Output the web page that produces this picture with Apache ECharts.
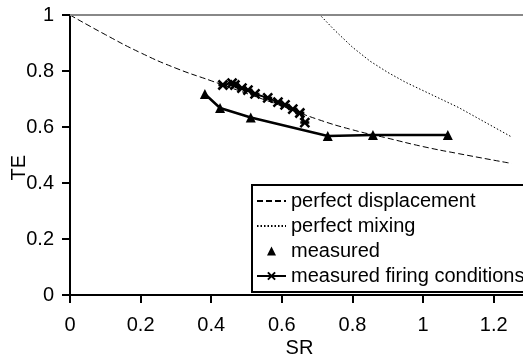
<!DOCTYPE html>
<html>
<head>
<meta charset="utf-8">
<script src="https://cdn.jsdelivr.net/npm/echarts@6/dist/echarts.min.js"></script>
<style>
html,body{margin:0;padding:0;background:#fff;}
#c{width:523px;height:354px;}
</style>
</head>
<body>
<div id="c"></div>
<script>
// ---- data ----
const displacementSR = [0, 0.1, 0.2, 0.3, 0.4, 0.5, 0.6, 0.7, 0.8, 0.9, 1.0, 1.1, 1.25];
const displacementTE = [1, 0.93, 0.865, 0.81, 0.765, 0.72, 0.675, 0.628, 0.59, 0.56, 0.53, 0.505, 0.47];
const mixingSR = [0, 0.708, 0.75, 0.8, 0.85, 0.9, 0.95, 1.0, 1.05, 1.1, 1.15, 1.2, 1.25];
const mixingTE = [1, 1, 0.945, 0.885, 0.835, 0.795, 0.76, 0.73, 0.70, 0.67, 0.635, 0.60, 0.565];
const measuredSR = [0.382, 0.425, 0.512, 0.730, 0.858, 1.070];
const measuredTE = [0.718, 0.668, 0.634, 0.568, 0.571, 0.571];
const firingSR = [0.433, 0.459, 0.467, 0.487, 0.504, 0.524, 0.560, 0.589, 0.609, 0.631, 0.651, 0.665];
const firingTE = [0.750, 0.757, 0.750, 0.739, 0.732, 0.718, 0.704, 0.689, 0.679, 0.664, 0.650, 0.616];
const seriesNames = ['perfect displacement', 'perfect mixing', 'measured', 'measured firing conditions'];
const xName = 'SR', yName = 'TE';

const zip = (a, b) => a.map((v, i) => [v, b[i]]);
const FONT = 'Liberation Sans, Arial, sans-serif';
const starPath = 'path://M0,0L10,10M10,0L0,10M0,5L10,5';
const triPath = 'path://M5,0L10,10L0,10Z';

const chart = echarts.init(document.getElementById('c'), null, {renderer: 'canvas'});
chart.setOption({
  animation: false,
  backgroundColor: '#fff',
  textStyle: {fontFamily: FONT, color: '#000'},
  grid: {left: 70, top: 15, bottom: 59, right: -6, containLabel: false, outerBoundsMode: 'none'},
  xAxis: {
    type: 'value', min: 0, max: 1.3, interval: 0.2,
    name: xName, nameLocation: 'middle', nameGap: 43, nameMoveOverlap: false,
    nameTextStyle: {fontFamily: FONT, fontSize: 20, color: '#000'},
    axisLine: {lineStyle: {color: '#000', width: 2}},
    axisTick: {length: 8, lineStyle: {color: '#000', width: 2}},
    axisLabel: {fontFamily: FONT, fontSize: 20, color: '#000', margin: 20, showMaxLabel: false},
    splitLine: {show: false}
  },
  yAxis: {
    type: 'value', min: 0, max: 1, interval: 0.2,
    name: yName, nameLocation: 'middle', nameGap: 41, nameRotate: 90, nameMoveOverlap: false,
    nameTextStyle: {fontFamily: FONT, fontSize: 20, color: '#000', align: 'right'},
    axisLine: {lineStyle: {color: '#000', width: 2}},
    axisTick: {length: 8, lineStyle: {color: '#000', width: 2}},
    axisLabel: {fontFamily: FONT, fontSize: 20, color: '#000', margin: 16},
    splitLine: {show: false}
  },
  legend: {
    orient: 'vertical', left: 252, top: 185,
    padding: [6, 5, 6, 4], itemGap: 5, itemWidth: 29, itemHeight: 9,
    backgroundColor: '#fff', borderColor: '#000', borderWidth: 2, borderRadius: 0,
    textStyle: {fontFamily: FONT, fontSize: 20, color: '#000'},
    data: [
      {name: seriesNames[0], itemStyle: {opacity: 0}},
      {name: seriesNames[1], itemStyle: {opacity: 0}},
      {name: seriesNames[2], icon: triPath},
      {name: seriesNames[3]}
    ]
  },
  series: [
    {
      name: seriesNames[0], type: 'line', data: zip(displacementSR, displacementTE),
      symbol: 'none', smooth: true, itemStyle: {color: '#000'},
      lineStyle: {color: '#000', width: 1, type: [6, 3]},
      markLine: {silent: true, symbol: 'none', label: {show: false},
        lineStyle: {color: '#888', width: 2, type: 'solid'}, data: [{yAxis: 1}]},
      z: 2
    },
    {
      name: seriesNames[1], type: 'line', data: zip(mixingSR, mixingTE),
      symbol: 'none', smooth: false, itemStyle: {color: '#000'},
      lineStyle: {color: '#000', width: 1, type: [1.5, 2]}, z: 3
    },
    {
      name: seriesNames[2], type: 'line', data: zip(measuredSR, measuredTE),
      symbol: 'triangle', symbolSize: 10, showAllSymbol: true,
      itemStyle: {color: '#000'}, lineStyle: {color: '#000', width: 2.5}, z: 4
    },
    {
      name: seriesNames[3], type: 'line', data: zip(firingSR, firingTE),
      symbol: starPath, symbolSize: 9, showAllSymbol: true,
      itemStyle: {color: '#000', borderColor: '#000', borderWidth: 2.5},
      lineStyle: {color: '#000', width: 2}, z: 5
    }
  ]
});
</script>
</body>
</html>
